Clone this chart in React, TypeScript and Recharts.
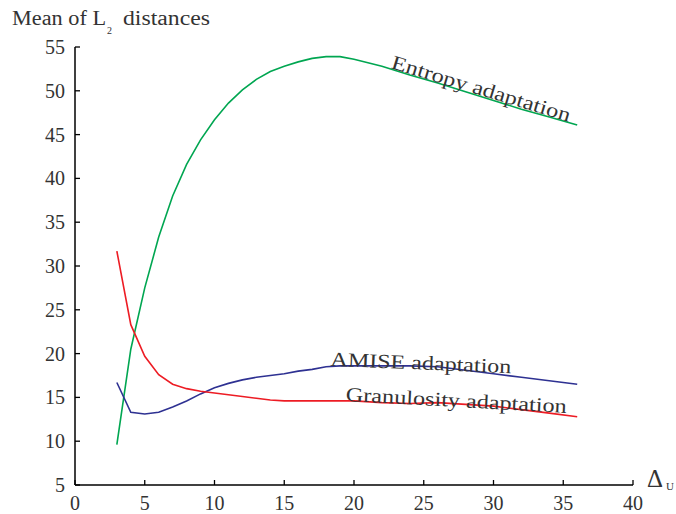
import React from 'react';
import { LineChart, Line, XAxis, YAxis, ReferenceDot } from 'recharts';

const xValues = [3, 4, 5, 6, 7, 8, 9, 10, 11, 12, 13, 14, 15, 16, 17, 18, 19, 20, 22, 24, 26, 28, 30, 32, 34, 36];
const entropy = [9.6, 20.5, 27.5, 33.3, 38.0, 41.6, 44.4, 46.7, 48.6, 50.1, 51.3, 52.2, 52.8, 53.3, 53.7, 53.9, 53.9, 53.6, 52.8, 51.8, 50.9, 49.9, 48.9, 47.9, 47.0, 46.1];
const amise = [16.7, 13.3, 13.1, 13.3, 13.9, 14.6, 15.4, 16.1, 16.6, 17.0, 17.3, 17.5, 17.7, 18.0, 18.2, 18.5, 18.6, 18.6, 18.6, 18.6, 18.5, 18.1, 17.7, 17.3, 16.9, 16.5];
const granulosity = [31.7, 23.3, 19.7, 17.6, 16.5, 16.0, 15.7, 15.5, 15.3, 15.1, 14.9, 14.7, 14.6, 14.6, 14.6, 14.6, 14.6, 14.6, 14.4, 14.3, 14.4, 14.2, 14.0, 13.6, 13.2, 12.8];

const xTicks = [0, 5, 10, 15, 20, 25, 30, 35, 40];
const yTicks = [5, 10, 15, 20, 25, 30, 35, 40, 45, 50, 55];

const seriesLabels = [
  { text: 'Entropy adaptation', x: 22.6, y: 52.6, angle: 16.8, len: 186 },
  { text: 'AMISE adaptation', x: 18.3, y: 18.6, angle: 2.3, len: 181 },
  { text: 'Granulosity adaptation', x: 19.4, y: 14.6, angle: 3.1, len: 221 },
];

const data = xValues.map((x, i) => ({ x, entropy: entropy[i], amise: amise[i], granulosity: granulosity[i] }));

const FONT = '"Liberation Serif", "DejaVu Serif", serif';
const TEXT = '#333';

const YTick = (props: any) => {
  const { x, y, payload } = props;
  return (
    <g>
      <line x1={x} y1={y} x2={x + 5} y2={y} stroke="#000" strokeWidth={1.3} />
      <text x={x - 10} y={y + 7} textAnchor="end" fontSize={20} fontFamily={FONT} fill={TEXT}>
        {payload.value}
      </text>
    </g>
  );
};

const XTick = (props: any) => {
  const { x, y, payload } = props;
  return (
    <g>
      <line x1={x} y1={y} x2={x} y2={y - 5} stroke="#000" strokeWidth={1.3} />
      <text x={x} y={y + 25} textAnchor="middle" fontSize={20} fontFamily={FONT} fill={TEXT}>
        {payload.value}
      </text>
    </g>
  );
};

const makeLabelShape = (text: string, angle: number, len: number) => (props: any) => {
  const { cx, cy } = props;
  return (
    <text
      x={cx}
      y={cy}
      fontSize={20}
      fontFamily={FONT}
      fill={TEXT}
      textLength={len}
      lengthAdjust="spacingAndGlyphs"
      transform={`rotate(${angle} ${cx} ${cy})`}
    >
      {text}
    </text>
  );
};

export default function App() {
  return (
    <div style={{ position: 'absolute', left: 0, top: 0, width: 676, height: 514, background: '#fff' }}>
      <LineChart width={676} height={514} data={data} margin={{ top: 47, right: 43, bottom: 0, left: 0 }}>
        <XAxis
          dataKey="x"
          type="number"
          domain={[0, 40]}
          ticks={xTicks}
          height={29}
          tickSize={0}
          tickMargin={0}
          tick={<XTick />}
          axisLine={{ stroke: '#000', strokeWidth: 1.5 }}
          allowDataOverflow
        />
        <YAxis
          type="number"
          domain={[5, 55]}
          ticks={yTicks}
          width={75}
          tickSize={0}
          tickMargin={0}
          tick={<YTick />}
          axisLine={{ stroke: '#000', strokeWidth: 1.5 }}
          allowDataOverflow
        />
        <Line type="linear" dataKey="entropy" stroke="#00a651" strokeWidth={1.6} dot={false} isAnimationActive={false} />
        <Line type="linear" dataKey="amise" stroke="#2e3192" strokeWidth={1.6} dot={false} isAnimationActive={false} />
        <Line type="linear" dataKey="granulosity" stroke="#ed1c24" strokeWidth={1.6} dot={false} isAnimationActive={false} />
        {seriesLabels.map((l) => (
          <ReferenceDot key={l.text} x={l.x} y={l.y} r={0} shape={makeLabelShape(l.text, l.angle, l.len)} />
        ))}
      </LineChart>
      <svg width={676} height={514} style={{ position: 'absolute', left: 0, top: 0, pointerEvents: 'none' }}>
        <text x={12} y={25} fontSize={20} fontFamily={FONT} fill={TEXT} textLength={94} lengthAdjust="spacingAndGlyphs">
          Mean of L
        </text>
        <text x={107} y={34} fontSize={10} fontFamily={FONT} fill={TEXT}>
          2
        </text>
        <text x={123} y={25} fontSize={20} fontFamily={FONT} fill={TEXT} textLength={87} lengthAdjust="spacingAndGlyphs">
          distances
        </text>
        <text x={647} y={487} fontSize={26} fontFamily={FONT} fill={TEXT} textLength={16} lengthAdjust="spacingAndGlyphs">
          Δ
        </text>
        <text x={666} y={490} fontSize={11} fontFamily={FONT} fill={TEXT}>
          U
        </text>
      </svg>
    </div>
  );
}
